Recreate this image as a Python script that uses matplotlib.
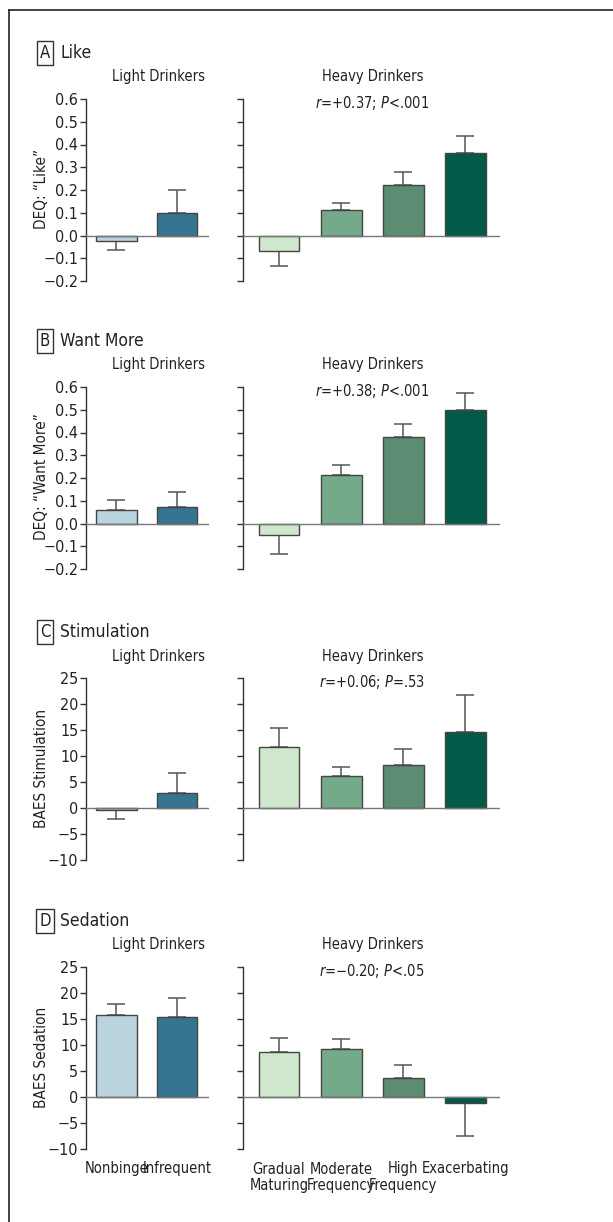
import matplotlib.pyplot as plt
from matplotlib.lines import Line2D
import numpy as np

plt.rcParams['font.family'] = ['DejaVu Sans']
plt.rcParams['font.stretch'] = 'condensed'
plt.rcParams['mathtext.fontset'] = 'dejavusans'

# categories
light_groups = ['Nonbinge', 'Infrequent']
heavy_groups = ['Gradual\nMaturing', 'Moderate\nFrequency', 'High\nFrequency', 'Exacerbating']
light_colors = ['#b9d3df', '#36758f']
heavy_colors = ['#cfe8cd', '#74aa8a', '#5c8c72', '#045a49']

# panel titles
letters = ['A', 'B', 'C', 'D']
titles = ['Like', 'Want More', 'Stimulation', 'Sedation']
ylabels = ['DEQ: \u201cLike\u201d', 'DEQ: \u201cWant More\u201d', 'BAES Stimulation', 'BAES Sedation']
stats = [r'$\mathit{r}$=+0.37; $\mathit{P}$<.001',
         r'$\mathit{r}$=+0.38; $\mathit{P}$<.001',
         r'$\mathit{r}$=+0.06; $\mathit{P}$=.53',
         r'$\mathit{r}$=$-$0.20; $\mathit{P}$<.05']

# means and (one-sided) error magnitudes
like_light = [-0.022, 0.098]
like_light_err = [0.040, 0.100]
like_heavy = [-0.066, 0.114, 0.223, 0.363]
like_heavy_err = [0.069, 0.030, 0.057, 0.075]

want_light = [0.059, 0.073]
want_light_err = [0.043, 0.066]
want_heavy = [-0.051, 0.214, 0.381, 0.499]
want_heavy_err = [0.084, 0.042, 0.057, 0.073]

stim_light = [-0.45, 2.8]
stim_light_err = [1.65, 3.9]
stim_heavy = [11.7, 6.1, 8.3, 14.55]
stim_heavy_err = [3.7, 1.8, 3.0, 7.15]

sed_light = [15.8, 15.3]
sed_light_err = [2.1, 3.75]
sed_heavy = [8.7, 9.27, 3.6, -1.2]
sed_heavy_err = [2.6, 1.85, 2.6, 6.3]

light_vals = [like_light, want_light, stim_light, sed_light]
light_errs = [like_light_err, want_light_err, stim_light_err, sed_light_err]
heavy_vals = [like_heavy, want_heavy, stim_heavy, sed_heavy]
heavy_errs = [like_heavy_err, want_heavy_err, stim_heavy_err, sed_heavy_err]

dec_ticks = [-0.2, -0.1, 0.0, 0.1, 0.2, 0.3, 0.4, 0.5, 0.6]
int_ticks = [-10, -5, 0, 5, 10, 15, 20, 25]
yticks = [dec_ticks, dec_ticks, int_ticks, int_ticks]

W, H = 613, 1222
fig = plt.figure(figsize=(W / 100, H / 100), dpi=100)

# frame (top and left edges visible)
fig.add_artist(Line2D([9 / W, 1.0], [1 - 10 / H, 1 - 10 / H], color='#222', lw=1.2))
fig.add_artist(Line2D([9 / W, 9 / W], [0, 1 - 10 / H], color='#222', lw=1.2))

tops = [99, 387, 678, 967]
ax_h = 182
TXT = '#222'
FS = 10.5


def draw_bars(ax, vals, errs, colors):
    x = np.arange(len(vals))
    for i, (v, e) in enumerate(zip(vals, errs)):
        yerr = [[0], [e]] if v >= 0 else [[e], [0]]
        ax.errorbar(x[i], v, yerr=yerr, fmt='none', ecolor='#555', elinewidth=1.1,
                    capsize=6.5, capthick=1.1, zorder=1)
    ax.bar(x, vals, width=0.66, color=colors, edgecolor='#444', linewidth=1.0, zorder=2)
    ax.axhline(0, color='#777', lw=1.0, zorder=3)


def style(ax, ticks, show_labels):
    for s in ['top', 'right', 'bottom']:
        ax.spines[s].set_visible(False)
    ax.spines['left'].set_color('#333')
    ax.spines['left'].set_linewidth(1.0)
    ax.set_ylim(ticks[0], ticks[-1])
    ax.set_yticks(ticks)
    if show_labels:
        if isinstance(ticks[1], float):
            labs = [('%.1f' % t).replace('-', '\u2212') for t in ticks]
        else:
            labs = [('%d' % t).replace('-', '\u2212') for t in ticks]
        ax.set_yticklabels(labs)
    else:
        ax.set_yticklabels([])
    ax.tick_params(axis='y', length=4, width=1.0, color='#333', labelsize=11.5, pad=1.5,
                   labelcolor=TXT)
    ax.tick_params(axis='x', length=0)


def group_labels(ax, groups):
    first = [g.split('\n')[0] for g in groups]
    ax.set_xticks(range(len(groups)))
    ax.set_xticklabels(first, fontsize=10.5, color=TXT)
    ax.tick_params(axis='x', pad=9)
    for i, g in enumerate(groups):
        parts = g.split('\n')
        if len(parts) > 1:
            ax.annotate(parts[1], xy=(i, 0), xycoords=('data', 'axes fraction'),
                        xytext=(0, -26), textcoords='offset points',
                        ha='center', va='center', fontsize=10.5, color=TXT)


for p in range(4):
    top = tops[p]
    bottom = 1 - (top + ax_h) / H
    axl = fig.add_axes([86 / W, bottom, (209 - 86) / W, ax_h / H])
    axr = fig.add_axes([243 / W, bottom, (500 - 243) / W, ax_h / H])

    draw_bars(axl, light_vals[p], light_errs[p], light_colors)
    draw_bars(axr, heavy_vals[p], heavy_errs[p], heavy_colors)
    style(axl, yticks[p], True)
    style(axr, yticks[p], False)
    axl.set_xlim(-0.5, 1.52)
    axr.set_xlim(-0.58, 3.56)

    # y label
    fig.text(42 / W, 1 - (top + ax_h / 2 - 1) / H, ylabels[p], fontsize=FS + 0.5,
             color=TXT, rotation=90, ha='center', va='center')

    if p == 3:
        group_labels(axl, light_groups)
        group_labels(axr, heavy_groups)
    else:
        axl.set_xticks([])
        axr.set_xticks([])

    # panel letter and title
    fy = 1 - (top - 46) / H
    fig.text(45 / W, fy, letters[p], fontsize=12, color=TXT, ha='center', va='center',
             bbox=dict(boxstyle='square,pad=0.18', fc='white', ec='#333', lw=1.0))
    fig.text(60 / W, fy, titles[p], fontsize=12.5, color=TXT, ha='left', va='center')

    sy = 1 - (top - 22) / H
    fig.text(159 / W, sy, 'Light Drinkers', fontsize=FS, color=TXT, ha='center', va='center')
    fig.text(373 / W, sy, 'Heavy Drinkers', fontsize=FS, color=TXT, ha='center', va='center')
    fig.text(372 / W, 1 - (top + 4) / H, stats[p], fontsize=FS, color=TXT,
             ha='center', va='center')

fig.savefig('out.png', dpi=100)
